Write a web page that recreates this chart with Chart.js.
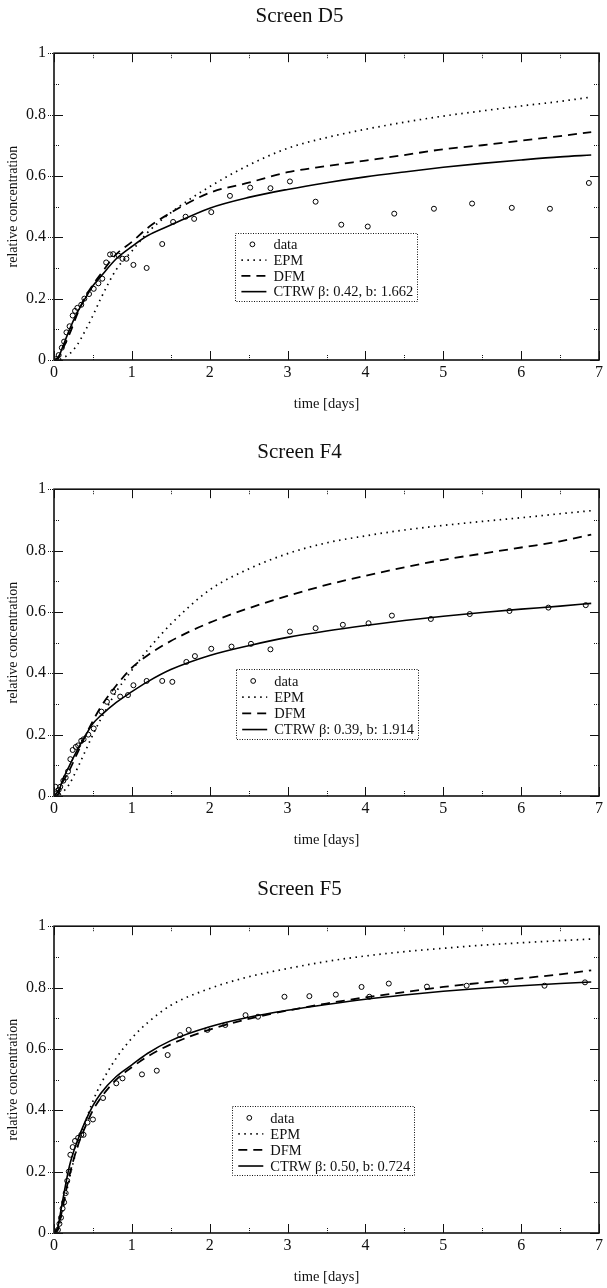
<!DOCTYPE html>
<html>
<head>
<meta charset="utf-8">
<script src="https://cdn.jsdelivr.net/npm/chart.js@4.4.1/dist/chart.umd.min.js"></script>
<style>
    body { margin: 0; width: 607px; height: 1288px; overflow: hidden; background: #fff; position: relative; }
    .panel { position: absolute; left: 0; width: 607px; height: 437px; }
</style>
</head>
<body>
<div class="panel" style="top:0px"><canvas id="chartD5" width="607" height="437"></canvas></div>
<div class="panel" style="top:436px"><canvas id="chartF4" width="607" height="437"></canvas></div>
<div class="panel" style="top:873px"><canvas id="chartF5" width="607" height="437"></canvas></div>
<script>
// axis ticks
const xMajorTicks = [0, 1, 2, 3, 4, 5, 6, 7];
const xMinorTicks = [0.5, 1.5, 2.5, 3.5, 4.5, 5.5, 6.5];
const yMajorTicks = [0, 0.2, 0.4, 0.6, 0.8, 1];
const yMinorTicks = [0.1, 0.3, 0.5, 0.7, 0.9];

// time grid of the model curves [days]
const modelTime = [0, 0.05, 0.1, 0.2, 0.3, 0.4, 0.5, 0.6, 0.8, 1.0, 1.2, 1.5, 2.0, 2.5, 3.0, 3.5, 4.0, 4.5, 5.0, 5.5, 6.0, 6.5, 6.9];

// Screen D5
const d5Time = [0.03, 0.06, 0.1, 0.13, 0.16, 0.2, 0.24, 0.27, 0.3, 0.35, 0.39, 0.45, 0.51, 0.57, 0.62, 0.67, 0.72, 0.76, 0.83, 0.88, 0.93, 1.02, 1.19, 1.39, 1.53, 1.69, 1.8, 2.02, 2.26, 2.52, 2.78, 3.03, 3.36, 3.69, 4.03, 4.37, 4.88, 5.37, 5.88, 6.37, 6.87];
const d5Data = [0.003, 0.016, 0.04, 0.06, 0.09, 0.11, 0.145, 0.16, 0.17, 0.18, 0.2, 0.215, 0.232, 0.25, 0.265, 0.318, 0.344, 0.345, 0.34, 0.33, 0.33, 0.31, 0.3, 0.378, 0.45, 0.467, 0.46, 0.482, 0.535, 0.562, 0.56, 0.582, 0.516, 0.441, 0.435, 0.477, 0.493, 0.51, 0.496, 0.493, 0.577];
const d5Epm = [0, 0, 0.005, 0.02, 0.05, 0.095, 0.145, 0.2, 0.295, 0.355, 0.415, 0.48, 0.565, 0.635, 0.69, 0.725, 0.752, 0.775, 0.795, 0.812, 0.828, 0.843, 0.857];
const d5Dfm = [0, 0.008, 0.03, 0.085, 0.15, 0.205, 0.245, 0.28, 0.345, 0.385, 0.43, 0.48, 0.545, 0.578, 0.612, 0.632, 0.65, 0.668, 0.687, 0.7, 0.715, 0.73, 0.743];
const d5Ctrw = [0, 0.005, 0.035, 0.1, 0.155, 0.2, 0.242, 0.272, 0.33, 0.37, 0.405, 0.44, 0.495, 0.53, 0.556, 0.578, 0.597, 0.613, 0.628, 0.641, 0.652, 0.662, 0.668];

// Screen F4
const f4Time = [0.02, 0.04, 0.06, 0.08, 0.12, 0.15, 0.18, 0.21, 0.24, 0.28, 0.31, 0.35, 0.38, 0.44, 0.51, 0.61, 0.68, 0.76, 0.85, 0.95, 1.02, 1.19, 1.39, 1.52, 1.7, 1.81, 2.02, 2.28, 2.53, 2.78, 3.03, 3.36, 3.71, 4.04, 4.34, 4.84, 5.34, 5.85, 6.35, 6.83];
const f4Data = [0.03, 0.01, 0.02, 0.03, 0.05, 0.06, 0.08, 0.12, 0.15, 0.16, 0.165, 0.18, 0.185, 0.2, 0.22, 0.275, 0.307, 0.34, 0.324, 0.329, 0.361, 0.375, 0.375, 0.372, 0.437, 0.456, 0.48, 0.487, 0.496, 0.478, 0.536, 0.547, 0.558, 0.563, 0.588, 0.577, 0.593, 0.603, 0.614, 0.622];
const f4Epm = [0, 0.002, 0.01, 0.04, 0.09, 0.145, 0.2, 0.25, 0.34, 0.41, 0.475, 0.56, 0.672, 0.74, 0.79, 0.825, 0.848, 0.867, 0.882, 0.895, 0.907, 0.92, 0.93];
const f4Dfm = [0, 0.015, 0.04, 0.085, 0.14, 0.195, 0.245, 0.29, 0.36, 0.418, 0.458, 0.505, 0.565, 0.612, 0.652, 0.688, 0.718, 0.745, 0.77, 0.79, 0.81, 0.83, 0.852];
const f4Ctrw = [0, 0.005, 0.045, 0.1, 0.15, 0.195, 0.236, 0.262, 0.305, 0.34, 0.372, 0.412, 0.458, 0.49, 0.517, 0.538, 0.556, 0.572, 0.586, 0.598, 0.609, 0.619, 0.628];

// Screen F5
const f5Time = [0.05, 0.07, 0.09, 0.11, 0.13, 0.15, 0.17, 0.19, 0.21, 0.24, 0.27, 0.31, 0.35, 0.38, 0.43, 0.5, 0.63, 0.8, 0.88, 1.13, 1.32, 1.46, 1.62, 1.73, 1.97, 2.2, 2.46, 2.62, 2.96, 3.28, 3.62, 3.95, 4.05, 4.3, 4.79, 5.3, 5.8, 6.3, 6.82];
const f5Data = [0.01, 0.03, 0.05, 0.08, 0.1, 0.13, 0.17, 0.2, 0.255, 0.28, 0.3, 0.31, 0.32, 0.32, 0.36, 0.37, 0.44, 0.488, 0.504, 0.517, 0.529, 0.58, 0.645, 0.662, 0.662, 0.678, 0.71, 0.705, 0.77, 0.772, 0.777, 0.802, 0.77, 0.813, 0.803, 0.806, 0.819, 0.806, 0.817];
const f5Epm = [0, 0.01, 0.06, 0.18, 0.28, 0.36, 0.43, 0.485, 0.57, 0.635, 0.685, 0.742, 0.797, 0.835, 0.862, 0.885, 0.903, 0.917, 0.928, 0.938, 0.946, 0.953, 0.958];
const f5Dfm = [0, 0.01, 0.07, 0.19, 0.28, 0.345, 0.4, 0.44, 0.5, 0.54, 0.575, 0.615, 0.663, 0.698, 0.725, 0.748, 0.768, 0.785, 0.802, 0.816, 0.83, 0.843, 0.856];
const f5Ctrw = [0, 0.02, 0.09, 0.22, 0.3, 0.363, 0.415, 0.455, 0.51, 0.548, 0.585, 0.627, 0.672, 0.703, 0.726, 0.745, 0.762, 0.776, 0.788, 0.798, 0.806, 0.813, 0.818];

const SERIF = '"Liberation Serif", "DejaVu Serif", serif';
const INK = '#111';

function toPoints(xs, ys) {
    return xs.map((x, i) => ({ x: x, y: ys[i] }));
}

// inward tick marks on all four sides plus the frame
const frameTicks = {
    id: 'frameTicks',
    afterDraw(chart) {
        const ctx = chart.ctx;
        const a = chart.chartArea;
        const xs = chart.scales.x;
        const ys = chart.scales.y;
        ctx.save();
        ctx.strokeStyle = INK;
        ctx.lineWidth = 1;
        ctx.beginPath();
        xMajorTicks.forEach(v => {
            const px = Math.round(xs.getPixelForValue(v)) + 0.5;
            ctx.moveTo(px, a.bottom); ctx.lineTo(px, a.bottom - 9);
            ctx.moveTo(px, a.top); ctx.lineTo(px, a.top + 9);
        });
        yMajorTicks.forEach(v => {
            const py = Math.round(ys.getPixelForValue(v)) + 0.5;
            ctx.moveTo(a.left, py); ctx.lineTo(a.left + 9, py);
            ctx.moveTo(a.right, py); ctx.lineTo(a.right - 9, py);
        });
        ctx.stroke();
        ctx.setLineDash([1, 1]);
        ctx.beginPath();
        xMinorTicks.forEach(v => {
            const px = Math.round(xs.getPixelForValue(v)) + 0.5;
            ctx.moveTo(px, a.bottom); ctx.lineTo(px, a.bottom - 5);
            ctx.moveTo(px, a.top); ctx.lineTo(px, a.top + 5);
        });
        yMinorTicks.forEach(v => {
            const py = Math.round(ys.getPixelForValue(v)) + 0.5;
            ctx.moveTo(a.left, py); ctx.lineTo(a.left + 6, py);
            ctx.moveTo(a.right, py); ctx.lineTo(a.right - 6, py);
        });
        // dotted stubs left of the axis at the labelled values
        yMajorTicks.forEach(v => {
            const py = Math.round(ys.getPixelForValue(v)) + 0.5;
            ctx.moveTo(a.left - 6, py); ctx.lineTo(a.left, py);
        });
        ctx.stroke();
        ctx.setLineDash([]);
        ctx.lineWidth = 1.6;
        ctx.strokeRect(a.left, a.top, a.right - a.left, a.bottom - a.top);
        ctx.restore();
    }
};

// dotted legend box placed at data coordinates inside the plot
const boxLegend = {
    id: 'boxLegend',
    afterDatasetsDraw(chart, args, opts) {
        const ctx = chart.ctx;
        const xs = chart.scales.x;
        const ys = chart.scales.y;
        const left = xs.getPixelForValue(opts.box[0]);
        const top = ys.getPixelForValue(opts.box[1]);
        const right = xs.getPixelForValue(opts.box[2]);
        const bottom = ys.getPixelForValue(opts.box[3]);
        const rowH = (bottom - top) / 4.3;
        ctx.save();
        ctx.fillStyle = '#fff';
        ctx.fillRect(left, top, right - left, bottom - top);
        ctx.strokeStyle = INK;
        ctx.lineWidth = 1;
        ctx.setLineDash([1, 1.5]);
        ctx.strokeRect(Math.round(left) + 0.5, Math.round(top) + 0.5, Math.round(right - left), Math.round(bottom - top));
        ctx.font = '14.5px ' + SERIF;
        ctx.textBaseline = 'middle';
        chart.data.datasets.forEach((ds, i) => {
            const cy = top + rowH * (0.72 + i);
            ctx.strokeStyle = '#000';
            if (ds.showLine === false) {
                ctx.setLineDash([]);
                ctx.lineWidth = 1;
                ctx.beginPath();
                ctx.arc(left + 17, cy, 2.4, 0, Math.PI * 2);
                ctx.stroke();
            } else {
                ctx.setLineDash(ds.borderDash || []);
                ctx.lineWidth = ds.borderWidth;
                ctx.beginPath();
                ctx.moveTo(left + 6, cy);
                ctx.lineTo(left + 31, cy);
                ctx.stroke();
            }
            ctx.fillStyle = INK;
            ctx.fillText(ds.label, left + 38, cy + 1);
        });
        ctx.restore();
    }
};

function makePanel(canvasId, title, dataT, dataC, epm, dfm, ctrw, ctrwLabel, box) {
    const ctx = document.getElementById(canvasId).getContext('2d');
    return new Chart(ctx, {
        type: 'scatter',
        data: {
            datasets: [
                {
                    label: 'data',
                    data: toPoints(dataT, dataC),
                    showLine: false,
                    pointStyle: 'circle',
                    pointRadius: 2.5,
                    pointBorderWidth: 1,
                    pointBorderColor: '#000',
                    pointBackgroundColor: 'rgba(255,255,255,0)'
                },
                {
                    label: 'EPM',
                    data: toPoints(modelTime, epm),
                    showLine: true,
                    borderColor: '#000',
                    borderWidth: 1.7,
                    borderDash: [1.5, 4.5],
                    pointRadius: 0,
                    cubicInterpolationMode: 'monotone'
                },
                {
                    label: 'DFM',
                    data: toPoints(modelTime, dfm),
                    showLine: true,
                    borderColor: '#000',
                    borderWidth: 1.8,
                    borderDash: [9, 6],
                    pointRadius: 0,
                    cubicInterpolationMode: 'monotone'
                },
                {
                    label: ctrwLabel,
                    data: toPoints(modelTime, ctrw),
                    showLine: true,
                    borderColor: '#000',
                    borderWidth: 1.6,
                    pointRadius: 0,
                    cubicInterpolationMode: 'monotone'
                }
            ]
        },
        options: {
            responsive: false,
            animation: false,
            devicePixelRatio: 1,
            layout: { padding: { left: 0, right: 8, top: 0, bottom: 0 } },
            plugins: {
                legend: { display: false },
                tooltip: { enabled: false },
                title: {
                    display: true,
                    text: title,
                    color: INK,
                    font: { family: SERIF, size: 21, weight: 'normal' },
                    padding: { top: 4, bottom: 24 }
                },
                boxLegend: { box: box }
            },
            scales: {
                x: {
                    type: 'linear',
                    min: 0,
                    max: 7,
                    grid: { display: false, drawTicks: false },
                    border: { display: false },
                    ticks: {
                        stepSize: 1,
                        color: INK,
                        padding: 3,
                        maxRotation: 0,
                        font: { family: SERIF, size: 16 }
                    },
                    title: {
                        display: true,
                        text: 'time [days]',
                        color: INK,
                        font: { family: SERIF, size: 14.5 },
                        padding: { top: 0, bottom: 24 }
                    },
                    afterFit: function(scale) { scale.height = 77; }
                },
                y: {
                    type: 'linear',
                    min: 0,
                    max: 1,
                    grid: { display: false, drawTicks: false },
                    border: { display: false },
                    ticks: {
                        stepSize: 0.2,
                        color: INK,
                        padding: 8,
                        font: { family: SERIF, size: 16 },
                        callback: function(value) {
                            if (value === 0) return '0';
                            if (Math.abs(value - 1) < 1e-9) return '1';
                            return value.toFixed(1);
                        }
                    },
                    title: {
                        display: true,
                        text: 'relative concentration',
                        color: INK,
                        font: { family: SERIF, size: 14 },
                        padding: { top: 5, bottom: 0 }
                    },
                    afterFit: function(scale) { scale.width = 54; }
                }
            }
        },
        plugins: [frameTicks, boxLegend]
    });
}

makePanel('chartD5', 'Screen D5', d5Time, d5Data, d5Epm, d5Dfm, d5Ctrw, 'CTRW \u03b2: 0.42, b: 1.662', [2.33, 0.414, 4.67, 0.193]);
makePanel('chartF4', 'Screen F4', f4Time, f4Data, f4Epm, f4Dfm, f4Ctrw, 'CTRW \u03b2: 0.39, b: 1.914', [2.34, 0.413, 4.68, 0.186]);
makePanel('chartF5', 'Screen F5', f5Time, f5Data, f5Epm, f5Dfm, f5Ctrw, 'CTRW \u03b2: 0.50, b: 0.724', [2.29, 0.413, 4.63, 0.188]);
</script>
</body>
</html>
